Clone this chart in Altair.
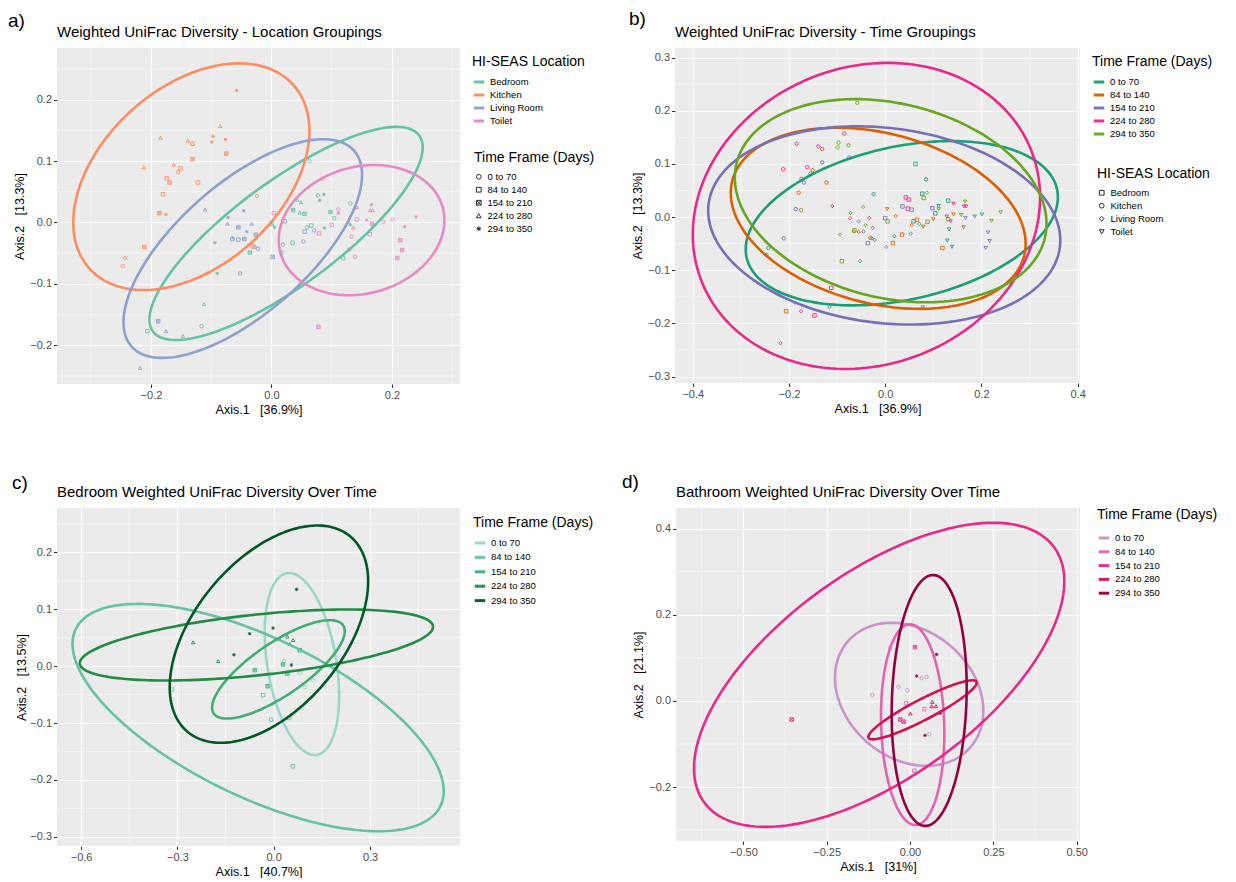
import altair as alt
import numpy as np
import pandas as pd

FONT = "Liberation Sans"

LOCS = ["Bedroom", "Kitchen", "Living Room", "Toilet"]
TIMES = ["0 to 70", "84 to 140", "154 to 210", "224 to 280", "294 to 350"]

# ---- shared ordination (panels a & b): per-location samples ----
kitchen_x = [-0.058, -0.085, -0.184, -0.139, -0.131, -0.097, -0.099, -0.076, -0.075, -0.131, -0.212, -0.162, -0.151,
             -0.155, -0.174, -0.169, -0.122, -0.180, -0.186, -0.175, -0.211, -0.243, -0.247, -0.024, 0.085, -0.031]
kitchen_y = [0.215, 0.157, 0.138, 0.133, 0.128, 0.140, 0.131, 0.135, 0.112, 0.103, 0.090, 0.094, 0.088,
             0.082, 0.072, 0.065, 0.065, 0.046, 0.015, 0.013, -0.040, -0.058, -0.071, 0.043, 0.071, -0.039]
kitchen_t = [5, 4, 4, 4, 2, 5, 5, 5, 3, 3, 4, 4, 2, 1, 2, 3, 2, 2, 3, 5, 3, 1, 1, 1, 1, 2]

living_x = [-0.110, -0.072, -0.073, -0.046, -0.033, -0.055, -0.041, -0.065, -0.055, -0.045, -0.026, -0.094, -0.028,
            -0.022, -0.052, 0.002, 0.087, -0.188, -0.175, -0.116, -0.218, 0.019, 0.022, 0.055, 0.053, 0.071]
living_y = [0.021, 0.008, -0.002, 0.019, -0.002, -0.008, -0.015, -0.027, -0.028, -0.027, -0.020, -0.033, -0.040,
            -0.043, -0.083, -0.056, 0.046, -0.161, -0.177, -0.169, -0.237, -0.036, 0.002, -0.015, -0.031, -0.013]
living_t = [4, 5, 4, 5, 4, 3, 5, 2, 2, 3, 3, 5, 1, 1, 1, 3, 5, 3, 4, 1, 4, 1, 2, 2, 1, 1]

bedroom_x = [0.063, 0.077, 0.080, 0.043, 0.049, 0.036, 0.047, 0.055, 0.098, 0.131, 0.104, 0.088, 0.000,
             0.005, 0.059, 0.066, -0.036, 0.016, 0.035, 0.119, 0.131, -0.064, -0.090, -0.112, -0.206, -0.147]
bedroom_y = [0.100, 0.044, 0.036, 0.037, 0.033, 0.020, 0.016, 0.014, 0.017, 0.031, 0.007, -0.009, -0.002,
             -0.008, -0.008, -0.005, -0.049, -0.049, -0.033, -0.058, -0.004, -0.025, -0.083, -0.133, -0.177, -0.185]
bedroom_t = [1, 1, 5, 4, 4, 3, 4, 3, 3, 1, 1, 5, 3, 5, 1, 2, 3, 2, 2, 2, 5, 5, 5, 4, 2, 4]

toilet_x = [0.111, 0.111, 0.142, 0.166, 0.164, 0.168, 0.142, 0.158, 0.167, 0.186, 0.201, 0.240, 0.221,
            0.214, 0.217, 0.209, 0.128, 0.136, 0.133, 0.139, 0.129, 0.100, 0.079, 0.004, 0.078, 0.163]
toilet_y = [0.021, 0.015, 0.025, 0.029, 0.020, 0.020, 0.005, 0.004, -0.002, 0.001, 0.005, 0.009, -0.007,
            -0.029, -0.045, -0.058, 0.001, -0.008, -0.023, -0.056, -0.044, -0.004, -0.018, 0.015, -0.170, -0.019]
toilet_t = [1, 5, 4, 5, 4, 4, 2, 5, 3, 1, 1, 5, 5, 3, 3, 3, 4, 4, 1, 1, 1, 2, 2, 2, 3, 2]

# ---- ellipses: centre, half-width, half-height, y-offset of rightmost point ----
ell_a_name = ["Bedroom", "Kitchen", "Living Room", "Toilet"]
ell_a_cx = [0.0243, -0.133, -0.0476, 0.1496]
ell_a_cy = [-0.0179, 0.0745, -0.0425, -0.0125]
ell_a_hx = [0.2268, 0.196, 0.198, 0.1375]
ell_a_hy = [0.1735, 0.1845, 0.178, 0.106]
ell_a_dr = [0.14, 0.0745, 0.12, 0.016]

ell_b_cx = [0.0345, -0.0145, -0.002, -0.039, 0.0114]
ell_b_cy = [-0.0115, -0.0023, -0.0157, 0.0022, 0.0308]
ell_b_hx = [0.3245, 0.3065, 0.366, 0.361, 0.324]
ell_b_hy = [0.1545, 0.1703, 0.1864, 0.2878, 0.191]
ell_b_dr = [0.049, -0.0477, -0.028, 0.035, -0.0433]

# ---- panel c: bedroom-only ordination ----
c_x = [0.071, -0.002, -0.075, -0.124, 0.055, -0.251, -0.173, 0.042, 0.060, 0.050, 0.081, 0.029, 0.042,
       -0.059, -0.019, -0.033, -0.008, 0.048, 0.059, -0.317, 0.032, 0.081, 0.123, 0.097]
c_y = [0.135, 0.067, 0.057, 0.020, 0.002, 0.042, 0.009, 0.052, 0.046, 0.039, 0.028, 0.003, -0.013,
       -0.007, -0.035, -0.051, -0.094, -0.091, -0.176, -0.041, 0.009, -0.012, -0.025, -0.037]
c_t = [5, 5, 5, 5, 5, 4, 4, 4, 4, 4, 3, 3, 3, 3, 3, 2, 2, 2, 2, 2, 1, 1, 1, 1]
ell_c_cx = [0.0877, -0.0487, 0.0145, -0.054, -0.015]
ell_c_cy = [0.0038, -0.0903, -0.0056, 0.0372, 0.0563]
ell_c_hx = [0.1158, 0.578, 0.2065, 0.55, 0.309]
ell_c_hy = [0.160, 0.1998, 0.0864, 0.0624, 0.1909]
ell_c_dr = [-0.055, -0.1294, 0.067, 0.032, 0.093]

# ---- panel d: bathroom-only ordination ----
d_x = [-0.355, 0.015, 0.080, 0.020, 0.035, 0.050, -0.035, -0.008, -0.113, -0.060, -0.012, 0.067, 0.065,
       0.078, 0.001, 0.043, 0.090, -0.029, -0.019, 0.045, 0.058, 0.013]
d_y = [-0.043, 0.125, 0.108, 0.058, 0.053, 0.056, 0.033, 0.025, 0.014, 0.124, -0.005, -0.002, -0.012,
       -0.012, -0.029, -0.019, -0.029, -0.043, -0.048, -0.080, -0.077, -0.162]
d_t = [3, 3, 5, 5, 1, 1, 1, 1, 1, 1, 2, 4, 4, 4, 4, 2, 5, 3, 3, 5, 1, 2]
ell_d_cx = [-0.0025, 0.008, -0.0925, 0.0375, 0.0575]
ell_d_cy = [0.0155, -0.055, 0.0607, -0.0205, 0.0012]
ell_d_hx = [0.2225, 0.095, 0.5555, 0.1625, 0.1125]
ell_d_hy = [0.166, 0.233, 0.353, 0.0685, 0.2912]
ell_d_dr = [-0.0387, -0.02, 0.217, 0.063, 0.03]

SET2 = ["#66c2a5", "#fc8d62", "#8da0cb", "#e78ac3"]
DARK2 = ["#1b9e77", "#d95f02", "#7570b3", "#e7298a", "#66a61e"]
BUGN = ["#99d8c9", "#66c2a4", "#41ae76", "#238b45", "#005824"]
PURD = ["#c994c7", "#df65b0", "#e7298a", "#ce1256", "#91003f"]

SQX = "M-1,-1H1V1H-1Z M-1,-1L1,1 M-1,1L1,-1"
AST = "M-1,0H1 M0,-1V1 M-0.7,-0.7L0.7,0.7 M-0.7,0.7L0.7,-0.7"
TIME_SHAPES = ["circle", "square", SQX, "triangle-up", AST]
LOC_SHAPES = ["square", "circle", "diamond", "triangle-down"]

NB = "\u00a0"


def ellipse_df(field, names, cx, cy, hx, hy, dr):
    t = np.linspace(0, 2 * np.pi, 181)
    rows = []
    for n, a, b, w, h, e in zip(names, cx, cy, hx, hy, dr):
        s = np.sqrt(h * h - e * e)
        for i, tt in enumerate(t):
            rows.append({field: n, "i": i, "x": a + w * np.cos(tt), "y": b + e * np.cos(tt) + s * np.sin(tt)})
    return pd.DataFrame(rows)


shared = pd.DataFrame({
    "x": kitchen_x + living_x + bedroom_x + toilet_x,
    "y": kitchen_y + living_y + bedroom_y + toilet_y,
    "loc": ["Kitchen"] * len(kitchen_x) + ["Living Room"] * len(living_x)
           + ["Bedroom"] * len(bedroom_x) + ["Toilet"] * len(toilet_x),
    "time": [TIMES[k - 1] for k in kitchen_t + living_t + bedroom_t + toilet_t],
})
c_pts = pd.DataFrame({"x": c_x, "y": c_y, "time": [TIMES[k - 1] for k in c_t]})
d_pts = pd.DataFrame({"x": d_x, "y": d_y, "time": [TIMES[k - 1] for k in d_t]})


def panel(pts, ell, cfield, cdom, crange, ctitle, sfield, sdom, srange, stitle,
          xdom, ydom, xmaj, ymaj, xminor, yminor, xfmt, yfmt, xtitle, ytitle,
          w, h, title, tag, tagx, tagy, lpad, loff, lrow, yext=28, ltp=6, spad=7, soff=5):
    xs = alt.Scale(domain=xdom, nice=False, zero=False)
    ys = alt.Scale(domain=ydom, nice=False, zero=False)
    xax = alt.Axis(values=xmaj, format=xfmt, title=xtitle, grid=True, titlePadding=3)
    yax = alt.Axis(values=ymaj, format=yfmt, title=ytitle, grid=True, titlePadding=3,
                   minExtent=yext, maxExtent=yext)
    xe = alt.X("x:Q", scale=xs, axis=xax)
    ye = alt.Y("y:Q", scale=ys, axis=yax)
    cscale = alt.Scale(domain=cdom, range=crange)
    clegend = alt.Legend(title=ctitle, symbolType="stroke", symbolStrokeWidth=3, symbolSize=110,
                         padding=lpad, offset=loff, rowPadding=lrow, titlePadding=ltp)
    minor_x = alt.Chart(pd.DataFrame({"x": xminor})).mark_rule(color="white", strokeWidth=0.55).encode(x=xe)
    minor_y = alt.Chart(pd.DataFrame({"y": yminor})).mark_rule(color="white", strokeWidth=0.55).encode(y=ye)
    layers = [minor_x, minor_y]
    if stitle is not None:
        slegend = alt.Legend(title=stitle, symbolStrokeColor="#222222", symbolSize=22,
                             symbolStrokeWidth=1, padding=spad, offset=soff, rowPadding=2, titlePadding=7)
        layers.append(alt.Chart(pts).mark_point(filled=False, size=12, strokeWidth=0.9, opacity=0.95).encode(
            x=xe, y=ye,
            color=alt.Color(f"{cfield}:N", scale=cscale, legend=clegend),
            shape=alt.Shape(f"{sfield}:N", scale=alt.Scale(domain=sdom, range=srange), legend=slegend),
        ))
    else:
        for lev, shp in zip(sdom, srange):
            sub = pts[pts[sfield] == lev]
            if len(sub) == 0:
                continue
            layers.append(alt.Chart(sub).mark_point(filled=False, size=12, strokeWidth=0.9, opacity=0.95,
                                                    shape=shp).encode(
                x=xe, y=ye,
                color=alt.Color(f"{cfield}:N", scale=cscale, legend=clegend),
            ))
    lines = alt.Chart(ell).mark_line(strokeWidth=2.6).encode(
        x=xe, y=ye,
        color=alt.Color(f"{cfield}:N", scale=cscale, legend=clegend),
        detail=f"{cfield}:N",
        order="i:Q",
    )
    tag_layer = alt.Chart(pd.DataFrame({"t": [tag]})).mark_text(
        align="left", baseline="middle", fontSize=19, font=FONT, color="black"
    ).encode(x=alt.value(tagx), y=alt.value(tagy), text="t:N")
    title_layer = alt.Chart(pd.DataFrame({"t": [title]})).mark_text(
        align="left", baseline="middle", fontSize=15, font=FONT, color="black"
    ).encode(x=alt.value(0), y=alt.value(-16), text="t:N")
    layers += [lines, tag_layer, title_layer]
    return alt.layer(*layers).properties(width=w, height=h)


ell_a = ellipse_df("loc", ell_a_name, ell_a_cx, ell_a_cy, ell_a_hx, ell_a_hy, ell_a_dr)
ell_b = ellipse_df("time", TIMES, ell_b_cx, ell_b_cy, ell_b_hx, ell_b_hy, ell_b_dr)
ell_c = ellipse_df("time", TIMES, ell_c_cx, ell_c_cy, ell_c_hx, ell_c_hy, ell_c_dr)
ell_d = ellipse_df("time", TIMES, ell_d_cx, ell_d_cy, ell_d_hx, ell_d_hy, ell_d_dr)

pa = panel(shared, ell_a, "loc", LOCS, SET2, "HI-SEAS Location", "time", TIMES, TIME_SHAPES, "Time Frame (Days)",
           [-0.356, 0.313], [-0.263, 0.284], [-0.2, 0.0, 0.2], [-0.2, -0.1, 0.0, 0.1, 0.2],
           [-0.3, -0.1, 0.1, 0.3], [-0.25, -0.15, -0.05, 0.05, 0.15, 0.25], ".1f", ".1f",
           f"Axis.1{NB}{NB}{NB}[36.9%]", f"Axis.2{NB}{NB}{NB}[13.3%]", 403, 336,
           "Weighted UniFrac Diversity - Location Groupings", "a)", -49, -27, 7, 5, 0, spad=9, soff=3)

pb = panel(shared, ell_b, "time", TIMES, DARK2, "Time Frame (Days)", "loc", LOCS, LOC_SHAPES, "HI-SEAS Location",
           [-0.437, 0.405], [-0.312, 0.318], [-0.4, -0.2, 0.0, 0.2, 0.4],
           [-0.3, -0.2, -0.1, 0.0, 0.1, 0.2, 0.3],
           [-0.3, -0.1, 0.1, 0.3], [-0.25, -0.15, -0.05, 0.05, 0.15, 0.25], ".1f", ".1f",
           f"Axis.1{NB}{NB}{NB}[36.9%]", f"Axis.2{NB}{NB}{NB}[13.3%]", 405, 335,
           "Weighted UniFrac Diversity - Time Groupings", "b)", -46, -29, 7, 5, 0, spad=12, soff=0)

pc = panel(c_pts, ell_c, "time", TIMES, BUGN, "Time Frame (Days)", "time", TIMES, TIME_SHAPES, None,
           [-0.675, 0.58], [-0.316, 0.278], [-0.6, -0.3, 0.0, 0.3], [-0.3, -0.2, -0.1, 0.0, 0.1, 0.2],
           [-0.45, -0.15, 0.15, 0.45], [-0.25, -0.15, -0.05, 0.05, 0.15, 0.25], ".1f", ".1f",
           f"Axis.1{NB}{NB}{NB}[40.7%]", f"Axis.2{NB}{NB}{NB}[13.5%]", 403, 338,
           "Bedroom Weighted UniFrac Diversity Over Time", "c)", -45, -25, 8, 5, 1.4, 26)

pd_ = panel(d_pts, ell_d, "time", TIMES, PURD, "Time Frame (Days)", "time", TIMES, TIME_SHAPES, None,
            [-0.702, 0.51], [-0.325, 0.448], [-0.5, -0.25, 0.0, 0.25, 0.5], [-0.2, 0.0, 0.2, 0.4],
            [-0.625, -0.375, -0.125, 0.125, 0.375], [-0.3, -0.1, 0.1, 0.3], ".2f", ".1f",
            f"Axis.1{NB}{NB}{NB}[31%]", f"Axis.2{NB}{NB}{NB}[21.1%]", 404, 333,
            "Bathroom Weighted UniFrac Diversity Over Time", "d)", -54, -26, 0, 17, 0.8, ltp=9)

row1 = alt.hconcat(pa, pb, spacing=25).resolve_scale(color="independent", shape="independent",
                                                      x="independent", y="independent")
row2 = alt.hconcat(pc, pd_, spacing=20).resolve_scale(color="independent", shape="independent",
                                                       x="independent", y="independent")
chart = alt.vconcat(row1, row2, spacing=57).resolve_scale(
    color="independent", shape="independent", x="independent", y="independent"
).properties(padding={"top": 2, "left": 0, "right": 0, "bottom": 0}).configure(font=FONT).configure_view(
    fill="#ebebeb", stroke=None
).configure_axis(
    gridColor="white", gridWidth=1.2, tickColor="#333333", tickSize=3.5, labelColor="#4d4d4d",
    labelFontSize=11, labelPadding=2, domain=False, titleFontSize=12.5, titleFontWeight="normal",
    titleColor="black", labelFont=FONT, titleFont=FONT
).configure_legend(
    titleFontSize=14, titleFontWeight="normal", titleColor="black", labelFontSize=9.5,
    labelColor="black", titleFont=FONT, labelFont=FONT
)

chart.save("out.html", embed_options={"renderer": "svg", "actions": False})
